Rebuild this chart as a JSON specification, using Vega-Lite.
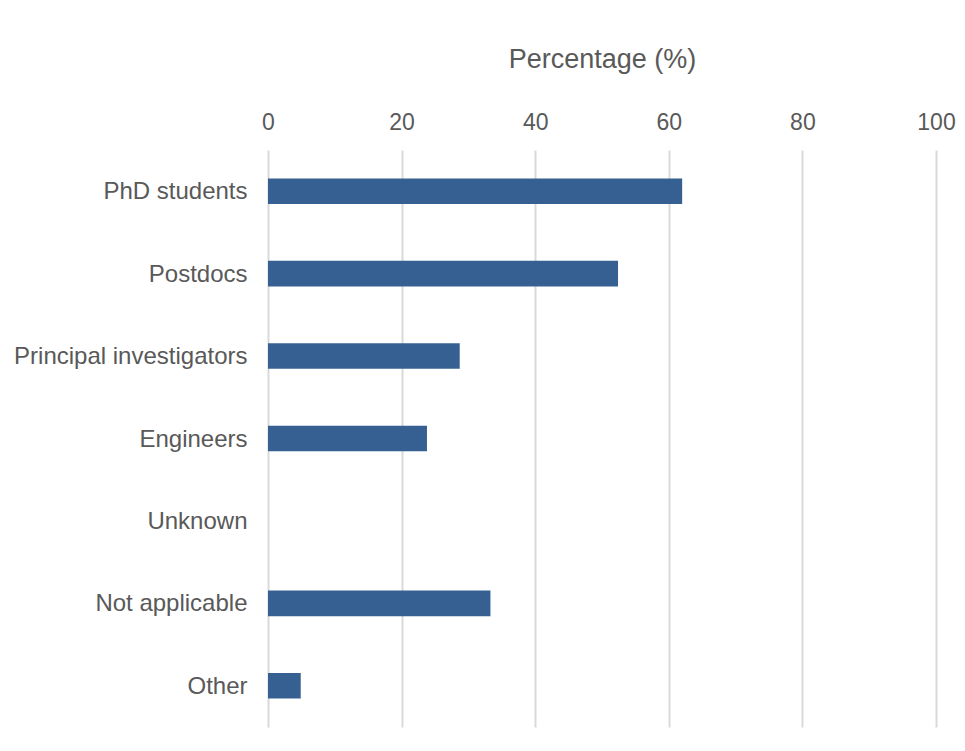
{
  "$schema": "https://vega.github.io/schema/vega-lite/v6.json",
  "width": 668,
  "height": 577,
  "autosize": {"type": "none"},
  "padding": {"left": 268, "top": 150, "right": 29, "bottom": 24},
  "background": "white",
  "config": {
    "view": {"stroke": null},
    "font": "Liberation Sans"
  },
  "data": {
    "values": [
      {"role": "PhD students", "pct": 62.0},
      {"role": "Postdocs", "pct": 52.4},
      {"role": "Principal investigators", "pct": 28.7},
      {"role": "Engineers", "pct": 23.8},
      {"role": "Unknown", "pct": 0},
      {"role": "Not applicable", "pct": 33.3},
      {"role": "Other", "pct": 4.9}
    ]
  },
  "mark": {"type": "bar", "color": "#376092"},
  "encoding": {
    "y": {
      "field": "role",
      "type": "nominal",
      "sort": null,
      "title": null,
      "scale": {"paddingInner": 0.69, "paddingOuter": 0.345},
      "axis": {
        "ticks": false,
        "domain": false,
        "labelFont": "Liberation Sans",
        "labelFontSize": 24,
        "labelColor": "#595959",
        "labelPadding": 21,
        "labelLimit": 400,
        "labelOffset": 1
      }
    },
    "x": {
      "field": "pct",
      "type": "quantitative",
      "title": "Percentage (%)",
      "scale": {"domain": [0, 100], "nice": false},
      "axis": {
        "orient": "top",
        "values": [0, 20, 40, 60, 80, 100],
        "ticks": false,
        "tickSize": 0,
        "domain": false,
        "grid": true,
        "gridColor": "#d9d9d9",
        "gridWidth": 2,
        "labelFont": "Liberation Sans",
        "labelFontSize": 23,
        "labelColor": "#595959",
        "labelPadding": 16,
        "labelFlush": false,
        "titleFont": "Liberation Sans",
        "titleFontSize": 27,
        "titleFontWeight": "normal",
        "titleColor": "#595959",
        "titlePadding": 38
      }
    }
  }
}
